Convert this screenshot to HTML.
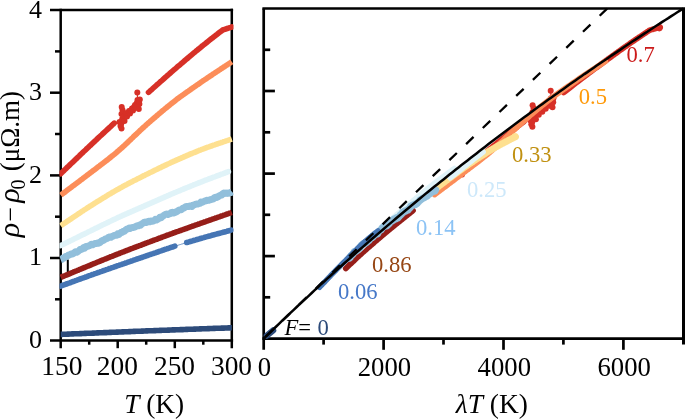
<!DOCTYPE html>
<html><head><meta charset="utf-8"><title>Resistivity scaling</title>
<style>html,body{margin:0;padding:0;background:#fff}svg{display:block;will-change:transform;opacity:0.9999}text{font-family:"Liberation Serif","DejaVu Serif",serif;fill:#000}.i{font-style:italic}</style>
</head><body>
<svg width="685" height="420" viewBox="0 0 685 420">
<rect width="685" height="420" fill="#fff"/>
<g stroke="#000" stroke-width="2.5" fill="none" stroke-linecap="butt">
<path d="M50.0,10.1 H233.1"/>
<path d="M50.0,340.6 H233.1"/>
<path d="M60.7,8.8 V348.2"/>
<path d="M231.8,8.8 V348.2"/>
<path d="M50,258.0 H60.7"/>
<path d="M50,175.4 H60.7"/>
<path d="M50,92.7 H60.7"/>
<path d="M55,299.3 H60.7"/>
<path d="M55,216.7 H60.7"/>
<path d="M55,134.0 H60.7"/>
<path d="M55,51.4 H60.7"/>
<path d="M117.7,340.6 V348.2"/>
<path d="M174.8,340.6 V348.2"/>
<path d="M89.2,340.6 V344.7"/>
<path d="M146.2,340.6 V344.7"/>
<path d="M203.3,340.6 V344.7"/>
</g>
<path d="M67.8,259.5 V273.5" stroke="#000" stroke-width="2" fill="none"/>
<clipPath id="cl"><rect x="59.5" y="0" width="174" height="345"/></clipPath>
<g fill="none" stroke-linejoin="round" stroke-linecap="butt" clip-path="url(#cl)">
<polyline points="60.7,277.4 61.8,276.9 63.0,276.4 64.1,276.0 65.3,275.5 66.4,275.0 67.5,274.6 68.7,274.1 69.8,273.6 71.0,273.1 72.1,272.7 73.2,272.2 74.4,271.7 75.5,271.2 76.7,270.8 77.8,270.3 79.0,269.8 80.1,269.3 81.2,268.9 82.4,268.4 83.5,267.9 84.7,267.5 85.8,267.0 86.9,266.5 88.1,266.0 89.2,265.6 90.4,265.1 91.5,264.6 92.6,264.2 93.8,263.7 94.9,263.2 96.1,262.8 97.2,262.3 98.3,261.8 99.5,261.4 100.6,260.9 101.8,260.4 102.9,260.0 104.0,259.5 105.2,259.0 106.3,258.6 107.5,258.1 108.6,257.7 109.7,257.2 110.9,256.7 112.0,256.3 113.2,255.8 114.3,255.4 115.5,254.9 116.6,254.5 117.7,254.0 118.9,253.6 120.0,253.1 121.2,252.7 122.3,252.2 123.4,251.8 124.6,251.3 125.7,250.9 126.9,250.5 128.0,250.0 129.1,249.6 130.3,249.1 131.4,248.7 132.6,248.3 133.7,247.8 134.8,247.4 136.0,247.0 137.1,246.5 138.3,246.1 139.4,245.7 140.5,245.3 141.7,244.8 142.8,244.4 144.0,244.0 145.1,243.5 146.2,243.1 147.4,242.7 148.5,242.2 149.7,241.8 150.8,241.4 152.0,241.0 153.1,240.5 154.2,240.1 155.4,239.7 156.5,239.3 157.7,238.8 158.8,238.4 159.9,238.0 161.1,237.6 162.2,237.1 163.4,236.7 164.5,236.3 165.6,235.9 166.8,235.4 167.9,235.0 169.1,234.6 170.2,234.2 171.3,233.8 172.5,233.4 173.6,232.9 174.8,232.5 175.9,232.1 177.0,231.7 178.2,231.3 179.3,230.9 180.5,230.5 181.6,230.1 182.8,229.7 183.9,229.3 185.0,228.9 186.2,228.5 187.3,228.1 188.5,227.7 189.6,227.2 190.7,226.8 191.9,226.4 193.0,226.0 194.2,225.6 195.3,225.2 196.4,224.8 197.6,224.4 198.7,224.0 199.9,223.6 201.0,223.2 202.1,222.8 203.3,222.4 204.4,222.0 205.6,221.6 206.7,221.2 207.8,220.8 209.0,220.4 210.1,220.0 211.3,219.6 212.4,219.2 213.5,218.8 214.7,218.4 215.8,218.0 217.0,217.6 218.1,217.2 219.3,216.8 220.4,216.4 221.5,216.0 222.7,215.6 223.8,215.2 225.0,214.8 226.1,214.4 227.2,214.0 228.4,213.6 229.5,213.2 230.7,212.8 231.8,212.4" stroke="#961e19" stroke-width="5.6" stroke-linecap="butt"/>
<polyline points="60.7,173.7 61.8,172.6 63.0,171.5 64.1,170.4 65.3,169.3 66.4,168.2 67.5,167.1 68.7,166.0 69.8,164.9 71.0,163.8 72.1,162.8 73.2,161.7 74.4,160.6 75.5,159.5 76.7,158.4 77.8,157.3 79.0,156.2 80.1,155.1 81.2,154.0 82.4,152.9 83.5,151.8 84.7,150.7 85.8,149.7 86.9,148.6 88.1,147.5 89.2,146.4 90.4,145.4 91.5,144.3 92.6,143.2 93.8,142.1 94.9,141.1 96.1,140.0 97.2,138.9 98.3,137.9 99.5,136.8 100.6,135.8 101.8,134.7 102.9,133.6 104.0,132.6 105.2,131.5 106.3,130.5 107.5,129.4 108.6,128.4 109.7,127.3 110.9,126.3 112.0,125.2 113.2,124.2 114.3,123.1" stroke="#d73027" stroke-width="5.6" stroke-linecap="round"/>
<polyline points="148.5,92.3 149.7,91.3 150.8,90.3 152.0,89.3 153.1,88.3 154.2,87.3 155.4,86.2 156.5,85.2 157.7,84.2 158.8,83.2 159.9,82.2 161.1,81.2 162.2,80.2 163.4,79.1 164.5,78.1 165.6,77.1 166.8,76.1 167.9,75.1 169.1,74.1 170.2,73.1 171.3,72.1 172.5,71.1 173.6,70.2 174.8,69.2 175.9,68.2 177.0,67.2 178.2,66.2 179.3,65.3 180.5,64.3 181.6,63.3 182.8,62.3 183.9,61.4 185.0,60.4 186.2,59.4 187.3,58.5 188.5,57.5 189.6,56.5 190.7,55.6 191.9,54.6 193.0,53.7 194.2,52.7 195.3,51.8 196.4,50.8 197.6,49.9 198.7,48.9 199.9,48.0 201.0,47.1 202.1,46.1 203.3,45.2 204.4,44.3 205.6,43.4 206.7,42.5 207.8,41.6 209.0,40.6 210.1,39.7 211.3,38.8 212.4,38.0 213.5,37.1 214.7,36.2 215.8,35.3 217.0,34.4 218.1,33.5 219.3,32.6 220.4,31.8 221.5,30.9 222.7,30.0 223.8,29.6 225.0,29.3 226.1,28.9 227.2,28.5 228.4,28.1 229.5,27.8 230.7,27.4 231.8,27.0" stroke="#d73027" stroke-width="5.6" stroke-linecap="round"/>
<polyline points="119.5,122.0 120.5,126.0 121.5,128.5 121.2,124.0 122.2,119.0 121.5,114.0 122.5,110.0 121.7,107.0 123.0,112.0 123.5,117.0 124.5,121.0 125.0,116.0 126.0,113.5 127.0,116.5 128.0,113.0 129.0,111.0 130.0,113.5 131.0,110.5 132.0,108.5 133.0,110.5 134.0,107.0 135.0,105.0 136.0,107.5 136.8,103.0 137.5,100.0 138.2,104.5 138.8,109.0 139.4,104.0 139.8,99.5 139.0,101.5" stroke="#d73027" stroke-width="2.2"/>
<polyline points="137.3,92.4 137.6,100.0" stroke="#d73027" stroke-width="1.2"/>
<circle cx="119.5" cy="122.0" r="3.0" fill="#d73027" stroke="none"/>
<circle cx="120.5" cy="126.0" r="3.0" fill="#d73027" stroke="none"/>
<circle cx="121.5" cy="128.5" r="3.0" fill="#d73027" stroke="none"/>
<circle cx="121.2" cy="124.0" r="3.0" fill="#d73027" stroke="none"/>
<circle cx="122.2" cy="119.0" r="3.0" fill="#d73027" stroke="none"/>
<circle cx="121.5" cy="114.0" r="3.0" fill="#d73027" stroke="none"/>
<circle cx="122.5" cy="110.0" r="3.0" fill="#d73027" stroke="none"/>
<circle cx="121.7" cy="107.0" r="3.0" fill="#d73027" stroke="none"/>
<circle cx="123.0" cy="112.0" r="3.0" fill="#d73027" stroke="none"/>
<circle cx="123.5" cy="117.0" r="3.0" fill="#d73027" stroke="none"/>
<circle cx="124.5" cy="121.0" r="3.0" fill="#d73027" stroke="none"/>
<circle cx="125.0" cy="116.0" r="3.0" fill="#d73027" stroke="none"/>
<circle cx="126.0" cy="113.5" r="3.0" fill="#d73027" stroke="none"/>
<circle cx="127.0" cy="116.5" r="3.0" fill="#d73027" stroke="none"/>
<circle cx="128.0" cy="113.0" r="3.0" fill="#d73027" stroke="none"/>
<circle cx="129.0" cy="111.0" r="3.0" fill="#d73027" stroke="none"/>
<circle cx="130.0" cy="113.5" r="3.0" fill="#d73027" stroke="none"/>
<circle cx="131.0" cy="110.5" r="3.0" fill="#d73027" stroke="none"/>
<circle cx="132.0" cy="108.5" r="3.0" fill="#d73027" stroke="none"/>
<circle cx="133.0" cy="110.5" r="3.0" fill="#d73027" stroke="none"/>
<circle cx="134.0" cy="107.0" r="3.0" fill="#d73027" stroke="none"/>
<circle cx="135.0" cy="105.0" r="3.0" fill="#d73027" stroke="none"/>
<circle cx="136.0" cy="107.5" r="3.0" fill="#d73027" stroke="none"/>
<circle cx="136.8" cy="103.0" r="3.0" fill="#d73027" stroke="none"/>
<circle cx="137.5" cy="100.0" r="3.0" fill="#d73027" stroke="none"/>
<circle cx="138.2" cy="104.5" r="3.0" fill="#d73027" stroke="none"/>
<circle cx="138.8" cy="109.0" r="3.0" fill="#d73027" stroke="none"/>
<circle cx="139.4" cy="104.0" r="3.0" fill="#d73027" stroke="none"/>
<circle cx="139.8" cy="99.5" r="3.0" fill="#d73027" stroke="none"/>
<circle cx="139.0" cy="101.5" r="3.0" fill="#d73027" stroke="none"/>
<circle cx="137.3" cy="92.4" r="3.0" fill="#d73027" stroke="none"/>
<polyline points="60.7,195.2 61.8,194.3 63.0,193.5 64.1,192.6 65.3,191.8 66.4,190.9 67.5,190.0 68.7,189.2 69.8,188.3 71.0,187.5 72.1,186.6 73.2,185.8 74.4,184.9 75.5,184.1 76.7,183.2 77.8,182.3 79.0,181.5 80.1,180.6 81.2,179.8 82.4,178.9 83.5,178.0 84.7,177.2 85.8,176.3 86.9,175.4 88.1,174.6 89.2,173.7 90.4,172.8 91.5,172.0 92.6,171.1 93.8,170.2 94.9,169.4 96.1,168.5 97.2,167.6 98.3,166.8 99.5,165.9 100.6,165.0 101.8,164.2 102.9,163.3 104.0,162.4 105.2,161.5 106.3,160.6 107.5,159.8 108.6,158.9 109.7,158.0 110.9,157.0 112.0,156.1 113.2,155.2 114.3,154.3 115.5,153.3 116.6,152.4 117.7,151.4 118.9,150.4 120.0,149.4 121.2,148.4 122.3,147.4 123.4,146.3 124.6,145.3 125.7,144.2 126.9,143.1 128.0,142.1 129.1,141.0 130.3,139.9 131.4,138.8 132.6,137.7 133.7,136.6 134.8,135.5 136.0,134.5 137.1,133.4 138.3,132.3 139.4,131.2 140.5,130.1 141.7,129.1 142.8,128.0 144.0,127.0 145.1,126.0 146.2,124.9 147.4,123.9 148.5,122.9 149.7,121.9 150.8,120.9 152.0,119.9 153.1,118.9 154.2,118.0 155.4,117.0 156.5,116.0 157.7,115.0 158.8,114.0 159.9,113.1 161.1,112.1 162.2,111.1 163.4,110.2 164.5,109.2 165.6,108.3 166.8,107.4 167.9,106.4 169.1,105.5 170.2,104.6 171.3,103.7 172.5,102.8 173.6,101.9 174.8,101.0 175.9,100.1 177.0,99.2 178.2,98.4 179.3,97.5 180.5,96.7 181.6,95.8 182.8,95.0 183.9,94.2 185.0,93.4 186.2,92.6 187.3,91.8 188.5,91.0 189.6,90.2 190.7,89.4 191.9,88.6 193.0,87.8 194.2,87.0 195.3,86.2 196.4,85.4 197.6,84.7 198.7,83.9 199.9,83.1 201.0,82.3 202.1,81.5 203.3,80.7 204.4,80.0 205.6,79.2 206.7,78.4 207.8,77.6 209.0,76.9 210.1,76.1 211.3,75.3 212.4,74.6 213.5,73.8 214.7,73.1 215.8,72.3 217.0,71.5 218.1,70.8 219.3,70.0 220.4,69.3 221.5,68.5 222.7,67.8 223.8,67.0 225.0,66.3 226.1,65.5 227.2,64.8 228.4,64.0 229.5,63.3 230.7,62.5 231.8,61.7" stroke="#fc8d59" stroke-width="5.6" stroke-linecap="butt"/>
<polyline points="60.7,225.8 61.8,225.0 63.0,224.2 64.1,223.5 65.3,222.7 66.4,221.9 67.5,221.2 68.7,220.4 69.8,219.6 71.0,218.8 72.1,218.1 73.2,217.3 74.4,216.5 75.5,215.8 76.7,215.0 77.8,214.2 79.0,213.5 80.1,212.7 81.2,211.9 82.4,211.2 83.5,210.4 84.7,209.7 85.8,209.0 86.9,208.2 88.1,207.5 89.2,206.7 90.4,206.0 91.5,205.3 92.6,204.6 93.8,203.9 94.9,203.1 96.1,202.4 97.2,201.7 98.3,201.0 99.5,200.3 100.6,199.6 101.8,198.9 102.9,198.2 104.0,197.5 105.2,196.8 106.3,196.1 107.5,195.4 108.6,194.7 109.7,194.0 110.9,193.4 112.0,192.7 113.2,192.0 114.3,191.4 115.5,190.7 116.6,190.0 117.7,189.4 118.9,188.8 120.0,188.1 121.2,187.5 122.3,186.9 123.4,186.2 124.6,185.6 125.7,185.0 126.9,184.4 128.0,183.8 129.1,183.2 130.3,182.6 131.4,182.0 132.6,181.4 133.7,180.8 134.8,180.3 136.0,179.7 137.1,179.1 138.3,178.5 139.4,178.0 140.5,177.4 141.7,176.8 142.8,176.2 144.0,175.7 145.1,175.1 146.2,174.5 147.4,174.0 148.5,173.4 149.7,172.8 150.8,172.3 152.0,171.7 153.1,171.1 154.2,170.6 155.4,170.0 156.5,169.5 157.7,168.9 158.8,168.4 159.9,167.8 161.1,167.3 162.2,166.7 163.4,166.2 164.5,165.6 165.6,165.1 166.8,164.6 167.9,164.0 169.1,163.5 170.2,163.0 171.3,162.4 172.5,161.9 173.6,161.4 174.8,160.9 175.9,160.4 177.0,159.9 178.2,159.4 179.3,158.9 180.5,158.4 181.6,157.9 182.8,157.4 183.9,156.9 185.0,156.4 186.2,155.9 187.3,155.4 188.5,154.9 189.6,154.4 190.7,153.9 191.9,153.5 193.0,153.0 194.2,152.5 195.3,152.1 196.4,151.6 197.6,151.1 198.7,150.7 199.9,150.2 201.0,149.8 202.1,149.3 203.3,148.9 204.4,148.5 205.6,148.0 206.7,147.6 207.8,147.2 209.0,146.8 210.1,146.4 211.3,146.0 212.4,145.6 213.5,145.2 214.7,144.8 215.8,144.4 217.0,144.0 218.1,143.6 219.3,143.2 220.4,142.9 221.5,142.5 222.7,142.1 223.8,141.7 225.0,141.3 226.1,140.9 227.2,140.6 228.4,140.2 229.5,139.8 230.7,139.4 231.8,139.0" stroke="#fee090" stroke-width="5.6" stroke-linecap="butt"/>
<polyline points="60.7,245.6 61.8,245.0 63.0,244.5 64.1,243.9 65.3,243.3 66.4,242.8 67.5,242.2 68.7,241.6 69.8,241.1 71.0,240.5 72.1,240.0 73.2,239.4 74.4,238.8 75.5,238.3 76.7,237.7 77.8,237.1 79.0,236.6 80.1,236.0 81.2,235.4 82.4,234.9 83.5,234.3 84.7,233.8 85.8,233.2 86.9,232.7 88.1,232.1 89.2,231.5 90.4,231.0 91.5,230.4 92.6,229.9 93.8,229.3 94.9,228.7 96.1,228.2 97.2,227.6 98.3,227.1 99.5,226.5 100.6,225.9 101.8,225.4 102.9,224.8 104.0,224.3 105.2,223.7 106.3,223.2 107.5,222.6 108.6,222.1 109.7,221.5 110.9,221.0 112.0,220.4 113.2,219.9 114.3,219.3 115.5,218.8 116.6,218.3 117.7,217.7 118.9,217.2 120.0,216.7 121.2,216.2 122.3,215.6 123.4,215.1 124.6,214.6 125.7,214.1 126.9,213.6 128.0,213.1 129.1,212.6 130.3,212.1 131.4,211.6 132.6,211.1 133.7,210.6 134.8,210.1 136.0,209.6 137.1,209.1 138.3,208.6 139.4,208.1 140.5,207.6 141.7,207.1 142.8,206.6 144.0,206.1 145.1,205.6 146.2,205.1 147.4,204.6 148.5,204.1 149.7,203.6 150.8,203.1 152.0,202.6 153.1,202.1 154.2,201.6 155.4,201.1 156.5,200.6 157.7,200.1 158.8,199.6 159.9,199.1 161.1,198.6 162.2,198.1 163.4,197.6 164.5,197.1 165.6,196.6 166.8,196.1 167.9,195.6 169.1,195.1 170.2,194.6 171.3,194.1 172.5,193.7 173.6,193.2 174.8,192.7 175.9,192.2 177.0,191.7 178.2,191.3 179.3,190.8 180.5,190.3 181.6,189.8 182.8,189.4 183.9,188.9 185.0,188.4 186.2,188.0 187.3,187.5 188.5,187.0 189.6,186.6 190.7,186.1 191.9,185.7 193.0,185.2 194.2,184.7 195.3,184.3 196.4,183.8 197.6,183.4 198.7,182.9 199.9,182.5 201.0,182.0 202.1,181.6 203.3,181.1 204.4,180.7 205.6,180.2 206.7,179.8 207.8,179.4 209.0,178.9 210.1,178.5 211.3,178.1 212.4,177.6 213.5,177.2 214.7,176.8 215.8,176.4 217.0,175.9 218.1,175.5 219.3,175.1 220.4,174.6 221.5,174.2 222.7,173.8 223.8,173.4 225.0,173.0 226.1,172.5 227.2,172.1 228.4,171.7" stroke="#e0f3f8" stroke-width="5.6" stroke-linecap="round"/>
<polyline points="60.7,259.8 61.8,259.4 63.0,258.0 64.1,258.1 65.3,256.8 66.4,256.3 67.5,256.0 68.7,254.9 69.8,254.9 71.0,253.9 72.1,254.0 73.2,253.5 74.4,252.7 75.5,251.8 76.7,252.3 77.8,251.6 79.0,250.6 80.1,249.5 81.2,249.4 82.4,249.0 83.5,247.5 84.7,248.1 85.8,246.4 86.9,246.5 88.1,246.2 89.2,245.8 90.4,245.2 91.5,244.2 92.6,244.8 93.8,244.0 94.9,243.6 96.1,243.6 97.2,243.0 98.3,243.2 99.5,242.7 100.6,242.0 101.8,240.8 102.9,240.5 104.0,240.0 105.2,239.1 106.3,238.7 107.5,238.4 108.6,237.3 109.7,237.0 110.9,237.3 112.0,236.5 113.2,236.2 114.3,235.4 115.5,235.2 116.6,235.3 117.7,233.9 118.9,234.5 120.0,233.4 121.2,232.3 122.3,232.4 123.4,231.3 124.6,231.2 125.7,229.8 126.9,229.2 128.0,228.9 129.1,228.1 130.3,228.5 131.4,227.7 132.6,227.6 133.7,227.3 134.8,227.1 136.0,226.3 137.1,225.7 138.3,225.8 139.4,225.0 140.5,225.3 141.7,223.9 142.8,223.4 144.0,222.4 145.1,222.1 146.2,222.4 147.4,221.9 148.5,221.2 149.7,221.8 150.8,221.0 152.0,221.2 153.1,221.0 154.2,220.7 155.4,219.4 156.5,219.9 157.7,219.2 158.8,218.5 159.9,217.2 161.1,217.7 162.2,216.6 163.4,215.8 164.5,214.9 165.6,214.4 166.8,214.0 167.9,214.4 169.1,213.9 170.2,213.6 171.3,212.6 172.5,212.2 173.6,213.0 174.8,212.5 175.9,212.0 177.0,211.5 178.2,210.6 179.3,209.9 180.5,209.8 181.6,209.5 182.8,208.4 183.9,208.0 185.0,207.3 186.2,206.5 187.3,206.5 188.5,206.5 189.6,206.2 190.7,205.9 191.9,206.5 193.0,205.1 194.2,204.9 195.3,204.4 196.4,204.1 197.6,204.1 198.7,203.6 199.9,203.4 201.0,202.1 202.1,202.3 203.3,201.8 204.4,201.2 205.6,200.9 206.7,200.3 207.8,200.4 209.0,200.2 210.1,199.8 211.3,199.6 212.4,198.9 213.5,199.0 214.7,197.4 215.8,197.3 217.0,197.4 218.1,196.7 219.3,195.9 220.4,195.3 221.5,195.1 222.7,193.7 223.8,193.1 225.0,193.4 226.1,193.1 227.2,193.4 228.4,193.2 229.5,192.7 230.7,192.6 231.8,191.6" stroke="#91bfdb" stroke-width="7.0" stroke-linecap="butt"/>
<polyline points="60.7,286.1 61.8,285.7 63.0,285.2 64.1,284.8 65.3,284.4 66.4,284.0 67.5,283.6 68.7,283.2 69.8,282.8 71.0,282.3 72.1,281.9 73.2,281.5 74.4,281.1 75.5,280.7 76.7,280.3 77.8,279.8 79.0,279.4 80.1,279.0 81.2,278.6 82.4,278.2 83.5,277.8 84.7,277.4 85.8,277.0 86.9,276.6 88.1,276.1 89.2,275.7 90.4,275.3 91.5,274.9 92.6,274.5 93.8,274.1 94.9,273.7 96.1,273.3 97.2,272.9 98.3,272.5 99.5,272.1 100.6,271.7 101.8,271.3 102.9,270.9 104.0,270.5 105.2,270.1 106.3,269.7 107.5,269.3 108.6,268.9 109.7,268.5 110.9,268.1 112.0,267.7 113.2,267.3 114.3,266.9 115.5,266.5 116.6,266.1 117.7,265.7 118.9,265.3 120.0,264.9 121.2,264.6 122.3,264.2 123.4,263.8 124.6,263.4 125.7,263.0 126.9,262.6 128.0,262.2 129.1,261.8 130.3,261.4 131.4,261.0 132.6,260.6 133.7,260.2 134.8,259.8 136.0,259.4 137.1,259.0 138.3,258.6 139.4,258.3 140.5,257.9 141.7,257.5 142.8,257.1 144.0,256.7 145.1,256.3 146.2,255.9 147.4,255.5 148.5,255.1 149.7,254.7 150.8,254.3 152.0,253.9 153.1,253.6 154.2,253.2 155.4,252.8 156.5,252.4 157.7,252.0 158.8,251.6 159.9,251.2 161.1,250.8 162.2,250.4 163.4,250.0 164.5,249.6 165.6,249.2 166.8,248.9 167.9,248.5 169.1,248.1 170.2,247.7 171.3,247.3 172.5,247.0 173.6,246.6 174.8,246.2" stroke="#4575b4" stroke-width="5.6" stroke-linecap="round"/>
<polyline points="186.7,242.5 187.9,242.2 189.0,241.9 190.2,241.5 191.3,241.2 192.4,240.9 193.6,240.5 194.7,240.2 195.9,239.9 197.0,239.5 198.2,239.2 199.3,238.9 200.4,238.5 201.6,238.2 202.7,237.9 203.9,237.6 205.0,237.2 206.1,236.9 207.3,236.6 208.4,236.3 209.6,236.0 210.7,235.7 211.8,235.3 213.0,235.0 214.1,234.7 215.3,234.4 216.4,234.1 217.5,233.8 218.7,233.5 219.8,233.2 221.0,232.9 222.1,232.6 223.2,232.3 224.4,232.0 225.5,231.7 226.7,231.4 227.8,231.0 228.9,230.7 230.1,230.4 231.2,230.1" stroke="#4575b4" stroke-width="5.6" stroke-linecap="round"/>
<polyline points="174.8,246.2 175.9,245.9 177.0,245.5 178.2,245.2 179.3,244.8 180.5,244.5 181.6,244.1 182.8,243.8 183.9,243.4 185.0,243.1 186.2,242.7 187.3,242.4" stroke="#4575b4" stroke-width="0.8"/>
<polyline points="60.7,334.4 61.8,334.4 63.0,334.3 64.1,334.3 65.3,334.2 66.4,334.2 67.5,334.1 68.7,334.1 69.8,334.0 71.0,334.0 72.1,333.9 73.2,333.9 74.4,333.8 75.5,333.8 76.7,333.8 77.8,333.7 79.0,333.7 80.1,333.6 81.2,333.6 82.4,333.5 83.5,333.5 84.7,333.4 85.8,333.4 86.9,333.3 88.1,333.3 89.2,333.2 90.4,333.2 91.5,333.2 92.6,333.1 93.8,333.1 94.9,333.0 96.1,333.0 97.2,332.9 98.3,332.9 99.5,332.8 100.6,332.8 101.8,332.7 102.9,332.7 104.0,332.6 105.2,332.6 106.3,332.6 107.5,332.5 108.6,332.5 109.7,332.4 110.9,332.4 112.0,332.3 113.2,332.3 114.3,332.2 115.5,332.2 116.6,332.1 117.7,332.1 118.9,332.0 120.0,332.0 121.2,332.0 122.3,331.9 123.4,331.9 124.6,331.8 125.7,331.8 126.9,331.7 128.0,331.7 129.1,331.6 130.3,331.6 131.4,331.5 132.6,331.5 133.7,331.4 134.8,331.4 136.0,331.3 137.1,331.3 138.3,331.3 139.4,331.2 140.5,331.2 141.7,331.1 142.8,331.1 144.0,331.0 145.1,331.0 146.2,330.9 147.4,330.9 148.5,330.8 149.7,330.8 150.8,330.8 152.0,330.7 153.1,330.7 154.2,330.6 155.4,330.6 156.5,330.5 157.7,330.5 158.8,330.5 159.9,330.4 161.1,330.4 162.2,330.3 163.4,330.3 164.5,330.2 165.6,330.2 166.8,330.2 167.9,330.1 169.1,330.1 170.2,330.0 171.3,330.0 172.5,329.9 173.6,329.9 174.8,329.9 175.9,329.8 177.0,329.8 178.2,329.7 179.3,329.7 180.5,329.6 181.6,329.6 182.8,329.6 183.9,329.5 185.0,329.5 186.2,329.4 187.3,329.4 188.5,329.3 189.6,329.3 190.7,329.3 191.9,329.2 193.0,329.2 194.2,329.1 195.3,329.1 196.4,329.0 197.6,329.0 198.7,329.0 199.9,328.9 201.0,328.9 202.1,328.8 203.3,328.8 204.4,328.7 205.6,328.7 206.7,328.7 207.8,328.6 209.0,328.6 210.1,328.5 211.3,328.5 212.4,328.5 213.5,328.4 214.7,328.4 215.8,328.3 217.0,328.3 218.1,328.3 219.3,328.2 220.4,328.2 221.5,328.1 222.7,328.1 223.8,328.1 225.0,328.0 226.1,328.0 227.2,328.0 228.4,327.9 229.5,327.9 230.7,327.8 231.8,327.8" stroke="#2d4b7a" stroke-width="5.6" stroke-linecap="butt"/>
</g>
<g stroke="#000" stroke-width="2.7" fill="none" stroke-linecap="butt">
<path d="M262.4,8.5 H685"/>
<path d="M262.4,338.6 H685"/>
<path d="M263.7,8.5 V349.8"/>
<path d="M683.6,8.5 V344.6" stroke-width="3.2"/>
<path d="M263.7,256.1 H274.9"/>
<path d="M263.7,173.6 H274.9"/>
<path d="M263.7,91.0 H274.9"/>
<path d="M263.7,297.3 H270.2"/>
<path d="M263.7,214.8 H270.2"/>
<path d="M263.7,132.3 H270.2"/>
<path d="M263.7,49.8 H270.2"/>
<path d="M383.6,338.6 V349.8"/>
<path d="M503.5,338.6 V349.8"/>
<path d="M623.4,338.6 V349.8"/>
<path d="M323.6,338.6 V344.6"/>
<path d="M443.5,338.6 V344.6"/>
<path d="M563.4,338.6 V344.6"/>
</g>
<g fill="none" stroke-linejoin="round" stroke-linecap="round">
<polyline points="345.8,268.4 346.3,267.9 346.8,267.4 347.3,267.0 347.8,266.5 348.3,266.0 348.8,265.5 349.3,265.1 349.8,264.6 350.3,264.1 350.8,263.7 351.3,263.2 351.8,262.7 352.3,262.3 352.8,261.8 353.3,261.3 353.8,260.9 354.2,260.4 354.7,259.9 355.2,259.5 355.7,259.0 356.2,258.5 356.7,258.1 357.2,257.6 357.7,257.1 358.2,256.7 358.7,256.2 359.2,255.8 359.7,255.3 360.2,254.8 360.7,254.4 361.2,253.9 361.7,253.5 362.2,253.0 362.7,252.6 363.2,252.1 363.7,251.7 364.2,251.2 364.7,250.8 365.2,250.3 365.7,249.9 366.2,249.4 366.7,249.0 367.2,248.6 367.7,248.1 368.2,247.7 368.7,247.3 369.2,246.8 369.7,246.4 370.2,246.0 370.7,245.5 371.2,245.1 371.7,244.7 372.2,244.2 372.7,243.8 373.2,243.4 373.7,242.9 374.2,242.5 374.6,242.1 375.1,241.6 375.6,241.2 376.1,240.8 376.6,240.4 377.1,239.9 377.6,239.5 378.1,239.1 378.6,238.7 379.1,238.2 379.6,237.8 380.1,237.4 380.6,236.9 381.1,236.5 381.6,236.1 382.1,235.7 382.6,235.3 383.1,234.8 383.6,234.4 384.1,234.0 384.6,233.6 385.1,233.2 385.6,232.7 386.1,232.3 386.6,231.9 387.1,231.5 387.6,231.1 388.1,230.7 388.6,230.2 389.1,229.8 389.6,229.4 390.1,229.0 390.6,228.6 391.1,228.2 391.6,227.8 392.1,227.4 392.6,227.0 393.1,226.6 393.6,226.2 394.1,225.8 394.5,225.4 395.0,225.0 395.5,224.6 396.0,224.2 396.5,223.8 397.0,223.4 397.5,223.0 398.0,222.6 398.5,222.2 399.0,221.8 399.5,221.4 400.0,221.0 400.5,220.6 401.0,220.2 401.5,219.8 402.0,219.4 402.5,219.0 403.0,218.6 403.5,218.2 404.0,217.8 404.5,217.4 405.0,217.0 405.5,216.6 406.0,216.2 406.5,215.8 407.0,215.4 407.5,215.0 408.0,214.6 408.5,214.2 409.0,213.8 409.5,213.4 410.0,213.0 410.5,212.6 411.0,212.2 411.5,211.8 412.0,211.4 412.5,211.0 413.0,210.6" stroke="#961e19" stroke-width="5.7"/>
<polyline points="462.0,171.9 463.3,170.8 464.6,169.7 465.9,168.6 467.2,167.5 468.6,166.4 469.9,165.3 471.2,164.3 472.5,163.2 473.9,162.1 475.2,161.0 476.5,159.9 477.8,158.8 479.1,157.7 480.5,156.6 481.8,155.5 483.1,154.4 484.4,153.3 485.8,152.2 487.1,151.1 488.4,150.1 489.7,149.0 491.0,147.9 492.4,146.8 493.7,145.7 495.0,144.7 496.3,143.6 497.6,142.5 499.0,141.5 500.3,140.4 501.6,139.3 502.9,138.3 504.3,137.2 505.6,136.1 506.9,135.1 508.2,134.0 509.5,132.9 510.9,131.9 512.2,130.8 513.5,129.8 514.8,128.7 516.2,127.7 517.5,126.6 518.8,125.6 520.1,124.5 521.4,123.5 522.8,122.4 524.1,121.4" stroke="#d73027" stroke-width="5.7"/>
<polyline points="563.7,92.5 565.1,91.4 566.4,90.4 567.7,89.4 569.0,88.4 570.3,87.4 571.7,86.4 573.0,85.3 574.3,84.3 575.6,83.3 577.0,82.3 578.3,81.3 579.6,80.3 580.9,79.3 582.2,78.3 583.6,77.3 584.9,76.3 586.2,75.3 587.5,74.3 588.8,73.3 590.2,72.3 591.5,71.3 592.8,70.3 594.1,69.3 595.5,68.3 596.8,67.4 598.1,66.4 599.4,65.4 600.7,64.4 602.1,63.5 603.4,62.5 604.7,61.5 606.0,60.5 607.4,59.6 608.7,58.6 610.0,57.7 611.3,56.7 612.6,55.7 614.0,54.8 615.3,53.8 616.6,52.9 617.9,51.9 619.2,51.0 620.6,50.0 621.9,49.1 623.2,48.2 624.5,47.2 625.9,46.3 627.2,45.4 628.5,44.5 629.8,43.6 631.1,42.6 632.5,41.7 633.8,40.8 635.1,39.9 636.4,39.0 637.8,38.1 639.1,37.2 640.4,36.4 641.7,35.5 643.0,34.6 644.4,33.7 645.7,32.8 647.0,31.9 648.3,31.1 649.6,30.2 651.0,29.8 652.3,29.4 653.6,29.1 654.9,28.7 656.3,28.3 657.6,28.0 658.9,27.6 660.2,27.2" stroke="#d73027" stroke-width="5.7"/>
<polyline points="530.1,120.3 531.3,124.3 532.4,126.8 532.1,122.3 533.2,117.3 532.4,112.3 533.6,108.3 532.6,105.3 534.2,110.3 534.7,115.3 535.9,119.3 536.5,114.3 537.6,111.8 538.8,114.8 539.9,111.3 541.1,109.3 542.3,111.8 543.4,108.8 544.6,106.8 545.7,108.8 546.9,105.3 548.1,103.3 549.2,105.8 550.1,101.3 551.0,98.3 551.8,102.8 552.5,107.3 553.2,102.3 553.6,97.8 552.7,99.8" stroke="#d73027" stroke-width="2.2"/>
<polyline points="550.7,90.7 551.1,98.3" stroke="#d73027" stroke-width="1.2"/>
<circle cx="530.1" cy="120.3" r="3.0" fill="#d73027" stroke="none"/>
<circle cx="531.3" cy="124.3" r="3.0" fill="#d73027" stroke="none"/>
<circle cx="532.4" cy="126.8" r="3.0" fill="#d73027" stroke="none"/>
<circle cx="532.1" cy="122.3" r="3.0" fill="#d73027" stroke="none"/>
<circle cx="533.2" cy="117.3" r="3.0" fill="#d73027" stroke="none"/>
<circle cx="532.4" cy="112.3" r="3.0" fill="#d73027" stroke="none"/>
<circle cx="533.6" cy="108.3" r="3.0" fill="#d73027" stroke="none"/>
<circle cx="532.6" cy="105.3" r="3.0" fill="#d73027" stroke="none"/>
<circle cx="534.2" cy="110.3" r="3.0" fill="#d73027" stroke="none"/>
<circle cx="534.7" cy="115.3" r="3.0" fill="#d73027" stroke="none"/>
<circle cx="535.9" cy="119.3" r="3.0" fill="#d73027" stroke="none"/>
<circle cx="536.5" cy="114.3" r="3.0" fill="#d73027" stroke="none"/>
<circle cx="537.6" cy="111.8" r="3.0" fill="#d73027" stroke="none"/>
<circle cx="538.8" cy="114.8" r="3.0" fill="#d73027" stroke="none"/>
<circle cx="539.9" cy="111.3" r="3.0" fill="#d73027" stroke="none"/>
<circle cx="541.1" cy="109.3" r="3.0" fill="#d73027" stroke="none"/>
<circle cx="542.3" cy="111.8" r="3.0" fill="#d73027" stroke="none"/>
<circle cx="543.4" cy="108.8" r="3.0" fill="#d73027" stroke="none"/>
<circle cx="544.6" cy="106.8" r="3.0" fill="#d73027" stroke="none"/>
<circle cx="545.7" cy="108.8" r="3.0" fill="#d73027" stroke="none"/>
<circle cx="546.9" cy="105.3" r="3.0" fill="#d73027" stroke="none"/>
<circle cx="548.1" cy="103.3" r="3.0" fill="#d73027" stroke="none"/>
<circle cx="549.2" cy="105.8" r="3.0" fill="#d73027" stroke="none"/>
<circle cx="550.1" cy="101.3" r="3.0" fill="#d73027" stroke="none"/>
<circle cx="551.0" cy="98.3" r="3.0" fill="#d73027" stroke="none"/>
<circle cx="551.8" cy="102.8" r="3.0" fill="#d73027" stroke="none"/>
<circle cx="552.5" cy="107.3" r="3.0" fill="#d73027" stroke="none"/>
<circle cx="553.2" cy="102.3" r="3.0" fill="#d73027" stroke="none"/>
<circle cx="553.6" cy="97.8" r="3.0" fill="#d73027" stroke="none"/>
<circle cx="552.7" cy="99.8" r="3.0" fill="#d73027" stroke="none"/>
<circle cx="550.7" cy="90.7" r="3.0" fill="#d73027" stroke="none"/>
<circle cx="462.4" cy="175.2" r="2.4" fill="#d73027" stroke="none"/>
<circle cx="659.3" cy="28.1" r="3.3" fill="#d73027" stroke="none"/>
<polyline points="434.5,194.6 435.7,193.7 436.8,192.9 438.0,192.0 439.1,191.2 440.2,190.3 441.4,189.5 442.5,188.6 443.6,187.8 444.8,186.9 445.9,186.1 447.1,185.2 448.2,184.3 449.3,183.5 450.5,182.6 451.6,181.8 452.8,180.9 453.9,180.1 455.0,179.2 456.2,178.3 457.3,177.5 458.5,176.6 459.6,175.8 460.7,174.9 461.9,174.0 463.0,173.1 464.1,172.3 465.3,171.4 466.4,170.5 467.6,169.7 468.7,168.8 469.8,167.9 471.0,167.1 472.1,166.2 473.3,165.3 474.4,164.5 475.5,163.6 476.7,162.7 477.8,161.9 479.0,161.0 480.1,160.1 481.2,159.2 482.4,158.3 483.5,157.4 484.6,156.5 485.8,155.6 486.9,154.7 488.1,153.7 489.2,152.8 490.3,151.8 491.5,150.9 492.6,149.9 493.8,148.9 494.9,147.9 496.0,146.8 497.2,145.8 498.3,144.7 499.5,143.7 500.6,142.6 501.7,141.6 502.9,140.5 504.0,139.4 505.1,138.3 506.3,137.2 507.4,136.1 508.6,135.0 509.7,133.9 510.8,132.9 512.0,131.8 513.1,130.7 514.3,129.6 515.4,128.6 516.5,127.5 517.7,126.5 518.8,125.5 520.0,124.4 521.1,123.4 522.2,122.4 523.4,121.4 524.5,120.4 525.7,119.4 526.8,118.5 527.9,117.5 529.1,116.5 530.2,115.5 531.3,114.5 532.5,113.5 533.6,112.6 534.8,111.6 535.9,110.7 537.0,109.7 538.2,108.8 539.3,107.8 540.5,106.9 541.6,105.9 542.7,105.0 543.9,104.1 545.0,103.2 546.2,102.3 547.3,101.4 548.4,100.5 549.6,99.6 550.7,98.8 551.8,97.9 553.0,97.1 554.1,96.2 555.3,95.4 556.4,94.5 557.5,93.7 558.7,92.9 559.8,92.1 561.0,91.3 562.1,90.5 563.2,89.7 564.4,88.9 565.5,88.1 566.7,87.3 567.8,86.5 568.9,85.8 570.1,85.0 571.2,84.2 572.3,83.4 573.5,82.6 574.6,81.9 575.8,81.1 576.9,80.3 578.0,79.5 579.2,78.7 580.3,78.0 581.5,77.2 582.6,76.4 583.7,75.7 584.9,74.9 586.0,74.1 587.2,73.4 588.3,72.6 589.4,71.9 590.6,71.1 591.7,70.4 592.8,69.6 594.0,68.8 595.1,68.1 596.3,67.3 597.4,66.6 598.5,65.8 599.7,65.1 600.8,64.3 602.0,63.6 603.1,62.8 604.2,62.1 605.4,61.3" stroke="#fc8d59" stroke-width="5.7"/>
<polyline points="437.4,187.3 438.3,186.7 439.1,186.0 439.9,185.4 440.8,184.7 441.6,184.1 442.4,183.4 443.3,182.8 444.1,182.2 445.0,181.5 445.8,180.9 446.6,180.3 447.5,179.7 448.3,179.0 449.2,178.4 450.0,177.8 450.8,177.2 451.7,176.6 452.5,175.9 453.4,175.3 454.2,174.7 455.0,174.1 455.9,173.5 456.7,172.9 457.6,172.3 458.4,171.6 459.2,171.0 460.1,170.4 460.9,169.8 461.8,169.2 462.6,168.6 463.4,168.0 464.3,167.4 465.1,166.9 465.9,166.3 466.8,165.7 467.6,165.1 468.5,164.5 469.3,163.9 470.1,163.4 471.0,162.8 471.8,162.2 472.7,161.7 473.5,161.1 474.3,160.5 475.2,160.0 476.0,159.4 476.9,158.9 477.7,158.3 478.5,157.8 479.4,157.2 480.2,156.7 481.1,156.1 481.9,155.6 482.7,155.1 483.6,154.5 484.4,154.0 485.2,153.5 486.1,152.9 486.9,152.4 487.8,151.9 488.6,151.4 489.4,150.9 490.3,150.4 491.1,149.9 492.0,149.4 492.8,148.9 493.6,148.4 494.5,147.9 495.3,147.4 496.2,146.9 497.0,146.5 497.8,146.0 498.7,145.5 499.5,145.1 500.4,144.6 501.2,144.2 502.0,143.7 502.9,143.3 503.7,142.8 504.6,142.4 505.4,142.0 506.2,141.5 507.1,141.1 507.9,140.7 508.7,140.2 509.6,139.8 510.4,139.4 511.3,138.9 512.1,138.5 512.9,138.1 513.8,137.6 514.6,137.2 515.5,136.7" stroke="#fee090" stroke-width="6.8"/>
<circle cx="515.0" cy="136.7" r="3.4" fill="#fee090" stroke="none"/>
<polyline points="359.0,249.9 359.6,249.3 360.3,248.7 360.9,248.1 361.6,247.5 362.2,246.9 362.8,246.3 363.5,245.7 364.1,245.1 364.7,244.5 365.4,243.8 366.0,243.2 366.6,242.6 367.3,242.0 367.9,241.4 368.5,240.8 369.2,240.2 369.8,239.6 370.4,239.0 371.1,238.4 371.7,237.8 372.4,237.2 373.0,236.6 373.6,236.0 374.3,235.4 374.9,234.8 375.5,234.2 376.2,233.6 376.8,233.0 377.4,232.4 378.1,231.8 378.7,231.2 379.3,230.6 380.0,230.0 380.6,229.4 381.2,228.8 381.9,228.2 382.5,227.6 383.2,227.0 383.8,226.4 384.4,225.8 385.1,225.2 385.7,224.7 386.3,224.1 387.0,223.5 387.6,222.9 388.2,222.3 388.9,221.7 389.5,221.2 390.1,220.6 390.8,220.0 391.4,219.4 392.0,218.9 392.7,218.3 393.3,217.8 394.0,217.2 394.6,216.6 395.2,216.1 395.9,215.5 396.5,215.0 397.1,214.5 397.8,213.9 398.4,213.4 399.0,212.8 399.7,212.3 400.3,211.7 400.9,211.2 401.6,210.7 402.2,210.1 402.9,209.6 403.5,209.1 404.1,208.5 404.8,208.0 405.4,207.4 406.0,206.9 406.7,206.4 407.3,205.8 407.9,205.3 408.6,204.7 409.2,204.2 409.8,203.6 410.5,203.1 411.1,202.6 411.7,202.0 412.4,201.5 413.0,200.9 413.7,200.4 414.3,199.9 414.9,199.3 415.6,198.8 416.2,198.2 416.8,197.7 417.5,197.2 418.1,196.6 418.7,196.1 419.4,195.6 420.0,195.0 420.6,194.5 421.3,194.0 421.9,193.5 422.5,192.9 423.2,192.4 423.8,191.9 424.5,191.4 425.1,190.9 425.7,190.4 426.4,189.8 427.0,189.3 427.6,188.8 428.3,188.3 428.9,187.8 429.5,187.3 430.2,186.8 430.8,186.3 431.4,185.8 432.1,185.3 432.7,184.8 433.4,184.3 434.0,183.8 434.6,183.3 435.3,182.8 435.9,182.3 436.5,181.8 437.2,181.3 437.8,180.8 438.4,180.4 439.1,179.9 439.7,179.4 440.3,178.9 441.0,178.4 441.6,178.0 442.2,177.5 442.9,177.0 443.5,176.5 444.2,176.1 444.8,175.6 445.4,175.1 446.1,174.7 446.7,174.2 447.3,173.7 448.0,173.3 448.6,172.8 449.2,172.3 449.9,171.9 450.5,171.4 451.1,170.9 451.8,170.5 452.4,170.0 453.0,169.5 453.7,169.1 454.3,168.6" stroke="#e0f3f8" stroke-width="5.7"/>
<polyline points="450.1,177.8 451.6,176.6 453.1,175.4 454.6,174.2 456.1,173.0 457.6,171.9 459.1,170.7 460.6,169.5 462.1,168.3 463.6,167.1 465.1,166.0 466.6,164.8 468.1,163.6 469.6,162.4 471.1,161.3 472.6,160.1 474.1,158.9 475.6,157.8 477.1,156.6 478.6,155.5 480.1,154.3 481.6,153.1 483.1,152.0" stroke="#e0f3f8" stroke-width="5.6"/>
<polyline points="349.7,258.1 350.2,257.6 350.8,255.7 351.4,255.6 352.0,255.4 352.5,254.2 353.1,254.2 353.7,252.9 354.2,251.8 354.8,251.5 355.4,251.3 356.0,251.4 356.5,250.9 357.1,250.8 357.7,249.5 358.3,249.3 358.8,248.5 359.4,248.5 360.0,248.0 360.5,246.5 361.1,245.6 361.7,245.1 362.3,244.5 362.8,244.0 363.4,243.5 364.0,243.8 364.6,243.0 365.1,242.9 365.7,243.1 366.3,242.8 366.8,242.2 367.4,241.9 368.0,241.0 368.6,240.2 369.1,240.4 369.7,239.2 370.3,238.5 370.9,237.9 371.4,238.1 372.0,237.7 372.6,237.1 373.2,236.7 373.7,236.2 374.3,235.2 374.9,234.5 375.4,234.3 376.0,234.4 376.6,233.8 377.2,233.2 377.7,233.7 378.3,232.5 378.9,231.5 379.5,231.1 380.0,230.5 380.6,230.1 381.2,229.8 381.7,228.4 382.3,228.4 382.9,227.2 383.5,226.6 384.0,226.9 384.6,226.6 385.2,225.5 385.8,225.5 386.3,226.0 386.9,225.7 387.5,225.3 388.1,223.9 388.6,223.5 389.2,223.9 389.8,222.4 390.3,221.6 390.9,221.5 391.5,221.4 392.1,220.6 392.6,220.7 393.2,220.5 393.8,219.0 394.4,219.1 394.9,219.1 395.5,218.3 396.1,218.7 396.6,217.8 397.2,217.5 397.8,217.9 398.4,217.4 398.9,216.7 399.5,216.2 400.1,215.1 400.7,215.0 401.2,214.2 401.8,214.0 402.4,212.5 403.0,212.8 403.5,212.3 404.1,211.8 404.7,211.1 405.2,211.4 405.8,210.5 406.4,210.7 407.0,210.2 407.5,209.8 408.1,210.0 408.7,208.9 409.3,208.6 409.8,208.3 410.4,206.6 411.0,206.9 411.5,206.0 412.1,205.3 412.7,205.2 413.3,205.2 413.8,204.7 414.4,204.4 415.0,203.9 415.6,204.6 416.1,203.7 416.7,203.8 417.3,203.4 417.9,202.3 418.4,202.1 419.0,201.5 419.6,200.7 420.1,199.9 420.7,200.0 421.3,199.3 421.9,199.0 422.4,198.6 423.0,198.0 423.6,198.1 424.2,197.7 424.7,197.5 425.3,196.6 425.9,196.6 426.4,196.0 427.0,195.5 427.6,195.9 428.2,195.0 428.7,193.9 429.3,193.5 429.9,193.8 430.5,193.3 431.0,192.4 431.6,192.5 432.2,191.9 432.8,191.8 433.3,190.8 433.9,190.5 434.5,190.1 435.0,190.9 435.6,189.9" stroke="#91bfdb" stroke-width="7.1"/>
<polyline points="319.5,287.4 319.8,287.0 320.2,286.6 320.6,286.2 321.0,285.8 321.4,285.4 321.8,285.0 322.2,284.5 322.6,284.1 323.0,283.7 323.4,283.3 323.8,282.9 324.2,282.5 324.6,282.1 324.9,281.7 325.3,281.2 325.7,280.8 326.1,280.4 326.5,280.0 326.9,279.6 327.3,279.2 327.7,278.7 328.1,278.3 328.5,277.9 328.9,277.5 329.3,277.1 329.7,276.7 330.1,276.3 330.4,275.9 330.8,275.4 331.2,275.0 331.6,274.6 332.0,274.2 332.4,273.8 332.8,273.4 333.2,273.0 333.6,272.6 334.0,272.2 334.4,271.8 334.8,271.4 335.2,271.0 335.6,270.6 335.9,270.2 336.3,269.8 336.7,269.4 337.1,269.0 337.5,268.6 337.9,268.2 338.3,267.8 338.7,267.4 339.1,267.0 339.5,266.6 339.9,266.2 340.3,265.8 340.7,265.4 341.0,265.0 341.4,264.6 341.8,264.2 342.2,263.8 342.6,263.4 343.0,263.0 343.4,262.6 343.8,262.2 344.2,261.9 344.6,261.5 345.0,261.1 345.4,260.7 345.8,260.3 346.2,259.9 346.5,259.5 346.9,259.1 347.3,258.7 347.7,258.3 348.1,257.9 348.5,257.5 348.9,257.1 349.3,256.7 349.7,256.4 350.1,256.0 350.5,255.6 350.9,255.2 351.3,254.8 351.6,254.4 352.0,254.0 352.4,253.6 352.8,253.2 353.2,252.8 353.6,252.4 354.0,252.1 354.4,251.7 354.8,251.3 355.2,250.9 355.6,250.5 356.0,250.1 356.4,249.7 356.8,249.3 357.1,248.9 357.5,248.5 357.9,248.1 358.3,247.7 358.7,247.4 359.1,247.0 359.5,246.6 359.9,246.2 360.3,245.8 360.7,245.5 361.1,245.1 361.5,244.7 361.9,244.4 362.2,244.0 362.6,243.6 363.0,243.3 363.4,242.9 363.8,242.6 364.2,242.2 364.6,241.9 365.0,241.5 365.4,241.2 365.8,240.8 366.2,240.5 366.6,240.2 367.0,239.8 367.4,239.5 367.7,239.1 368.1,238.8 368.5,238.5 368.9,238.1 369.3,237.8 369.7,237.5 370.1,237.2 370.5,236.8 370.9,236.5 371.3,236.2 371.7,235.9 372.1,235.5 372.5,235.2 372.8,234.9 373.2,234.6 373.6,234.3 374.0,233.9 374.4,233.6 374.8,233.3 375.2,233.0 375.6,232.7 376.0,232.4 376.4,232.1 376.8,231.8 377.2,231.5 377.6,231.2 378.0,230.9" stroke="#4575b4" stroke-width="5.4"/>
<path d="M266.8,335.6 L273.2,330.4" stroke="#2d4b7a" stroke-width="6.2"/>
</g>
<path d="M263.7,338.6 L607.2,8.5" stroke="#000" stroke-width="2.3" stroke-dasharray="10.3 12.86" stroke-dashoffset="-2.8" fill="none"/>
<polyline points="263.7,338.6 266.7,335.7 269.7,332.8 272.7,329.9 275.7,327.0 278.7,324.1 281.7,321.2 284.7,318.3 287.7,315.5 290.7,312.6 293.7,309.8 296.7,307.0 299.7,304.2 302.7,301.4 305.7,298.6 308.7,295.8 311.7,293.0 314.7,290.2 317.6,287.5 320.6,284.7 323.6,282.0 326.6,279.2 329.6,276.5 332.6,273.8 335.6,271.1 338.6,268.4 341.6,265.7 344.6,263.0 347.6,260.4 350.6,257.7 353.6,255.1 356.6,252.4 359.6,249.8 362.6,247.1 365.6,244.5 368.6,241.9 371.6,239.3 374.6,236.7 377.6,234.1 380.6,231.6 383.6,229.0 386.6,226.4 389.6,223.9 392.6,221.4 395.6,218.8 398.6,216.3 401.6,213.8 404.6,211.3 407.6,208.8 410.6,206.3 413.6,203.8 416.6,201.3 419.6,198.8 422.5,196.4 425.5,193.9 428.5,191.5 431.5,189.0 434.5,186.6 437.5,184.2 440.5,181.8 443.5,179.4 446.5,177.0 449.5,174.6 452.5,172.2 455.5,169.8 458.5,167.4 461.5,165.1 464.5,162.7 467.5,160.4 470.5,158.0 473.5,155.7 476.5,153.4 479.5,151.1 482.5,148.7 485.5,146.4 488.5,144.1 491.5,141.8 494.5,139.6 497.5,137.3 500.5,135.0 503.5,132.8 506.5,130.5 509.5,128.2 512.5,126.0 515.5,123.8 518.5,121.5 521.5,119.3 524.5,117.1 527.4,114.9 530.4,112.7 533.4,110.5 536.4,108.3 539.4,106.1 542.4,103.9 545.4,101.8 548.4,99.6 551.4,97.5 554.4,95.3 557.4,93.2 560.4,91.0 563.4,88.9 566.4,86.8 569.4,84.6 572.4,82.5 575.4,80.4 578.4,78.3 581.4,76.2 584.4,74.1 587.4,72.1 590.4,70.0 593.4,67.9 596.4,65.8 599.4,63.8 602.4,61.7 605.4,59.7 608.4,57.7 611.4,55.6 614.4,53.6 617.4,51.6 620.4,49.6 623.4,47.5 626.4,45.5 629.4,43.5 632.3,41.5 635.3,39.6 638.3,37.6 641.3,35.6 644.3,33.6 647.3,31.7 650.3,29.7 653.3,27.7 656.3,25.8 659.3,23.9 662.3,21.9 665.3,20.0 668.3,18.1 671.3,16.1 674.3,14.2 677.3,12.3 680.3,10.4 683.3,8.5" stroke="#000" stroke-width="2.5" fill="none"/>
<g font-size="26" text-anchor="end">
<text x="42" y="348.0">0</text>
<text x="42" y="265.4">1</text>
<text x="42" y="182.8">2</text>
<text x="42" y="100.1">3</text>
<text x="42" y="17.5">4</text>
</g>
<g font-size="27.4" text-anchor="middle">
<text x="61.9" y="375.4">150</text>
<text x="117.4" y="375.4">200</text>
<text x="174.5" y="375.4">250</text>
<text x="231.5" y="375.4">300</text>
<text x="264.5" y="375.6" font-size="26.7">0</text>
<text x="384.4" y="375.6" font-size="26.7">2000</text>
<text x="504.3" y="375.6" font-size="26.7">4000</text>
<text x="624.2" y="375.6" font-size="26.7">6000</text>
<text x="154.2" y="413"><tspan class="i">T</tspan> (K)</text>
<text x="491.8" y="413"><tspan class="i">λT</tspan> (K)</text>
</g>
<text font-size="26" transform="translate(19,0) rotate(-90)"><tspan x="-237.2" font-size="30" class="i">ρ</tspan><tspan x="-221.5">−</tspan><tspan x="-202.8" font-size="30" class="i">ρ</tspan><tspan x="-189.5" dy="6" font-size="20">0</tspan><tspan x="-171.2" dy="-6" font-size="27">(μΩ.m)</tspan></text>
<g font-size="22.6">
<text x="626.5" y="62.4" style="fill:#cc1b1b">0.7</text>
<text x="578.8" y="104" style="fill:#ff9a0a">0.5</text>
<text x="512" y="162" style="fill:#c09010">0.33</text>
<text x="467" y="197.3" style="fill:#cde8fa">0.25</text>
<text x="416" y="234.5" style="fill:#8cc3f5">0.14</text>
<text x="372" y="271.5" style="fill:#964614">0.86</text>
<text x="338" y="298.8" style="fill:#4678c8">0.06</text>
<text x="284.5" y="335.3"><tspan class="i">F</tspan>= <tspan dx="0.7" style="fill:#2d4b7a">0</tspan></text>
</g>
</svg></body></html>
